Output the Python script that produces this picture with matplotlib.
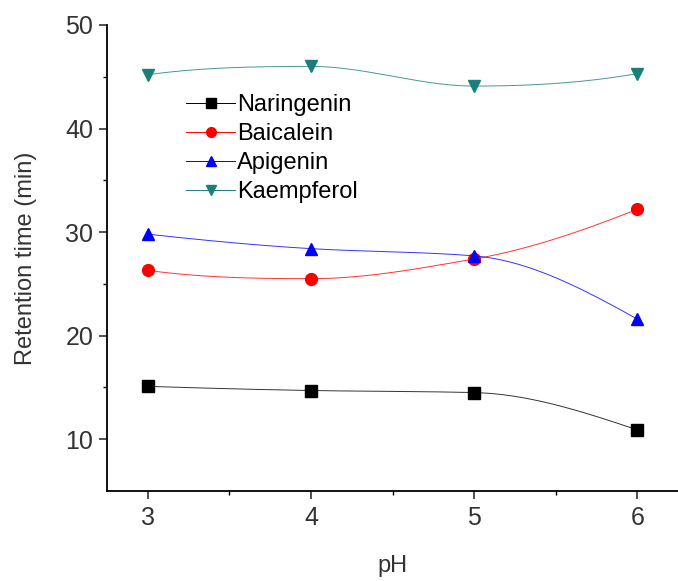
import matplotlib
matplotlib.use("Agg")
from matplotlib import pyplot as plt
import numpy as np

plt.rcParams['font.family'] = ['Liberation Sans', 'DejaVu Sans']

ph = [3, 4, 5, 6]
naringenin = [15.1, 14.7, 14.5, 10.9]
baicalein = [26.3, 25.5, 27.4, 32.2]
apigenin = [29.8, 28.4, 27.7, 21.6]
kaempferol = [45.2, 46.0, 44.1, 45.3]


def smooth(x, y, n=200):
    # monotone piecewise cubic (pchip) through the points, for the connecting line
    x = np.asarray(x, float)
    y = np.asarray(y, float)
    h = np.diff(x)
    d = np.diff(y) / h
    m = np.zeros_like(y)
    for i in range(1, len(x) - 1):
        if d[i - 1] * d[i] > 0:
            w1 = 2 * h[i] + h[i - 1]
            w2 = h[i] + 2 * h[i - 1]
            m[i] = (w1 + w2) / (w1 / d[i - 1] + w2 / d[i])
    m[0] = ((2 * h[0] + h[1]) * d[0] - h[0] * d[1]) / (h[0] + h[1])
    if np.sign(m[0]) != np.sign(d[0]):
        m[0] = 0
    m[-1] = ((2 * h[-1] + h[-2]) * d[-1] - h[-1] * d[-2]) / (h[-1] + h[-2])
    if np.sign(m[-1]) != np.sign(d[-1]):
        m[-1] = 0
    xs = np.linspace(x[0], x[-1], n)
    idx = np.clip(np.searchsorted(x, xs) - 1, 0, len(x) - 2)
    hh = h[idx]
    t = (xs - x[idx]) / hh
    h00 = 2 * t ** 3 - 3 * t ** 2 + 1
    h10 = t ** 3 - 2 * t ** 2 + t
    h01 = -2 * t ** 3 + 3 * t ** 2
    h11 = t ** 3 - t ** 2
    ys = h00 * y[idx] + h10 * hh * m[idx] + h01 * y[idx + 1] + h11 * hh * m[idx + 1]
    return xs, ys


fig = plt.figure(figsize=(6.78, 5.81), dpi=100)
ax = fig.add_axes([0.158, 0.155, 0.842, 0.802])

series = [
    ("Naringenin", naringenin, "#000000", "s"),
    ("Baicalein", baicalein, "#ff0000", "o"),
    ("Apigenin", apigenin, "#0000ff", "^"),
    ("Kaempferol", kaempferol, "#1a7f7a", "v"),
]
for name, vals, col, mk in series:
    xs, ys = smooth(ph, vals)
    ax.plot(xs, ys, color=col, lw=0.7, alpha=0.8)
    ax.plot(ph, vals, linestyle="none", marker=mk, color=col, markersize=8.5)
    ax.plot([], [], color=col, lw=0.7, marker=mk, markersize=7, label=name)

ax.set_xlim(2.75, 6.25)
ax.set_ylim(5, 50)
ax.set_xticks([3, 4, 5, 6])
ax.set_xticks([3.5, 4.5, 5.5], minor=True)
ax.set_yticks([10, 20, 30, 40, 50])
ax.set_yticks([15, 25, 35, 45], minor=True)
ax.tick_params(which="major", direction="out", length=6, width=1.2, labelsize=18, colors="#333333", pad=5)
ax.tick_params(which="minor", direction="out", length=3, width=1.0)
ax.tick_params(axis="y", which="major", pad=4)
ax.spines["top"].set_visible(False)
ax.spines["right"].set_visible(False)
ax.spines["left"].set_linewidth(1.3)
ax.spines["bottom"].set_linewidth(1.3)
ax.set_xlabel("pH", fontsize=17, color="#333333", labelpad=18)
ax.set_ylabel("Retention time (min)", fontsize=17, color="#333333", labelpad=20)

ax.legend(frameon=False, fontsize=17, loc="upper left", bbox_to_anchor=(0.138, 0.852),
          handlelength=2.1, handletextpad=0.05, labelspacing=0.3, borderaxespad=0, borderpad=0)

fig.savefig("out.png", dpi=100)
